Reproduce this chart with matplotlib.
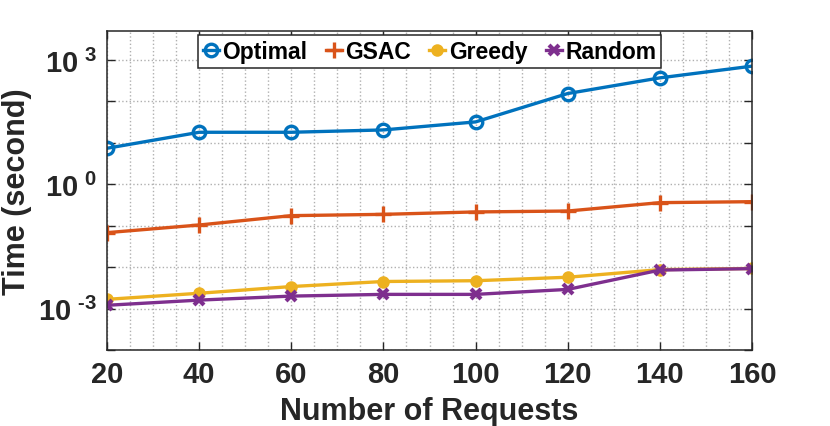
import numpy as np
import matplotlib.pyplot as plt
from matplotlib.ticker import MultipleLocator, FixedLocator, FixedFormatter

plt.rcParams['font.family'] = ['Liberation Sans', 'DejaVu Sans']
plt.rcParams['font.weight'] = 'bold'
plt.rcParams['mathtext.fontset'] = 'custom'
plt.rcParams['mathtext.rm'] = 'Liberation Sans:bold'
plt.rcParams['mathtext.bf'] = 'Liberation Sans:bold'

requests = [20, 40, 60, 80, 100, 120, 140, 160]
optimal = [7.4, 18, 18, 20.5, 32, 155, 370, 710]
gsac = [0.068, 0.104, 0.175, 0.188, 0.215, 0.226, 0.36, 0.38]
greedy = [0.00167, 0.00234, 0.0034, 0.0045, 0.0047, 0.0057, 0.0087, 0.0093]
rand_t = [0.0012, 0.0016, 0.0020, 0.0022, 0.0022, 0.0029, 0.0085, 0.0092]

fig = plt.figure(figsize=(8.3, 4.27), dpi=100)
ax = fig.add_axes([0.129, 0.178, 0.777, 0.747])

lw = 2.4
ax.plot(requests, optimal, '-o', color='#0072BD', lw=lw, ms=9, mfc='none', mew=2.4, label='Optimal')
ax.plot(requests, gsac, '-+', color='#D95319', lw=lw, ms=11, mew=2.4, label='GSAC')
ax.plot(requests, greedy, '-o', color='#EDB120', lw=lw, ms=7.5, mew=1.5, label='Greedy')
ax.plot(requests, rand_t, '-x', color='#7E2F8E', lw=lw, ms=7.5, mew=3, label='Random')

ax.set_yscale('log')
ax.set_xlim(20, 160)
ax.set_ylim(1e-4, 5e3)

ax.xaxis.set_major_locator(MultipleLocator(20))
ax.xaxis.set_minor_locator(MultipleLocator(5))
decades = [10.0 ** k for k in range(-4, 4)]
ylabels = ['' if k % 3 else r'$10^{\ \text{%d}}$' % k for k in range(-4, 4)]
ax.yaxis.set_major_locator(FixedLocator(decades))
ax.yaxis.set_major_formatter(FixedFormatter(ylabels))
ax.yaxis.set_minor_locator(FixedLocator([]))

ax.grid(True, which='major', axis='y', ls=':', color='#b0b0b0', lw=1)
ax.grid(True, which='minor', axis='x', ls=':', color='#b0b0b0', lw=1)
ax.grid(True, which='major', axis='x', ls=':', color='#b0b0b0', lw=1)
ax.set_axisbelow(True)

ax.tick_params(which='major', direction='in', top=True, right=True, length=6,
               width=1, color='#262626', labelsize=21, labelcolor='#262626', pad=7)
ax.tick_params(which='minor', length=0, top=True, right=True)
for lab in ax.get_xticklabels() + ax.get_yticklabels():
    lab.set_fontweight('bold')
for s in ax.spines.values():
    s.set_color('#262626')
    s.set_linewidth(1.1)

ax.set_xlabel('Number of Requests', fontsize=22, fontweight='bold', color='#262626')
ax.set_ylabel('Time (second)', fontsize=22, fontweight='bold', color='#262626')
ax.xaxis.set_label_coords(0.5, -0.145)
ax.yaxis.set_label_coords(-0.117, 0.5)

leg = ax.legend(loc='upper center', bbox_to_anchor=(0.5, 0.995), ncol=4, fontsize=16.5,
                frameon=True, fancybox=False, edgecolor='#262626', framealpha=1,
                handlelength=0.7, handletextpad=0.15, columnspacing=0.8,
                borderpad=0.22, borderaxespad=0.1)
leg.get_frame().set_linewidth(1.1)
for t in leg.get_texts():
    t.set_fontweight('bold')

fig.savefig('out.png', dpi=100)
